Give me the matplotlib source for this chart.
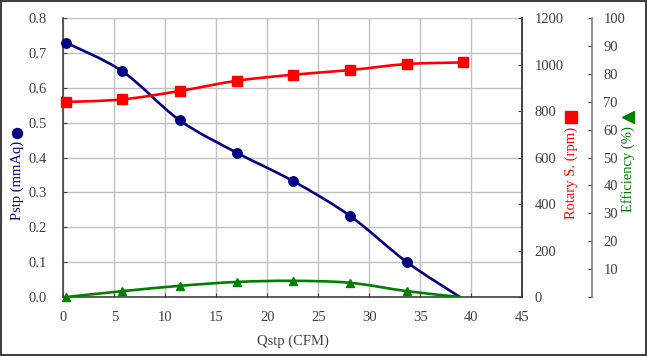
import numpy as np
import matplotlib
matplotlib.use('Agg')
import matplotlib.pyplot as plt
from matplotlib.path import Path
from matplotlib.lines import Line2D
import matplotlib.patches as mpatches

# Data.
qstp = [0.3, 5.8, 11.4, 17.0, 22.5, 28.1, 33.7, 38.9]
pstp = [0.729, 0.647, 0.507, 0.414, 0.333, 0.233, 0.100, 0.0]
rotary_x = [0.3, 5.8, 11.4, 17.0, 22.5, 28.1, 33.7, 39.2]
rotary = [839, 850, 886, 930, 956, 976, 1002, 1009]
efficiency = [0.0, 2.1, 4.0, 5.4, 5.8, 5.1, 2.1, 0.0]

x_ticks = [0, 5, 10, 15, 20, 25, 30, 35, 40, 45]
p_ticks = [0.0, 0.1, 0.2, 0.3, 0.4, 0.5, 0.6, 0.7, 0.8]
r_ticks = [0, 200, 400, 600, 800, 1000, 1200]
e_ticks = [0, 10, 20, 30, 40, 50, 60, 70, 80, 90, 100]

NAVY = '#000080'
RED = '#ff0000'
GREEN = '#008000'
TXT = '#404040'
FONT = ['Liberation Serif', 'DejaVu Sans']

plt.rcParams['font.family'] = FONT
plt.rcParams['font.size'] = 10.5


def smooth_path(x, y):
    # Excel-like smoothed line: Catmull-Rom segments as cubic Beziers.
    p = np.column_stack([x, y]).astype(float)
    ext = np.vstack([p[0], p, p[-1]])
    verts = [p[0]]
    codes = [Path.MOVETO]
    for i in range(len(p) - 1):
        p0, p1, p2, p3 = ext[i], ext[i + 1], ext[i + 2], ext[i + 3]
        c1 = p1 + (p2 - p0) / 6.0
        c2 = p2 - (p3 - p1) / 6.0
        verts += [c1, c2, p2]
        codes += [Path.CURVE4] * 3
    return Path(verts, codes)


def draw_series(a, x, y, color, marker, ms, n_mark):
    patch = mpatches.PathPatch(smooth_path(x, y), facecolor='none',
                               edgecolor=color, lw=1.9, capstyle='round')
    a.add_patch(patch)
    a.plot(x[:n_mark], y[:n_mark], ls='none', marker=marker, ms=ms,
           color=color, clip_on=False, zorder=5)


def axis_title(x, y_text, y_sym, text, color, marker, ms):
    fig.text(x, y_text, text, rotation=90, color=color, ha='center',
             va='center', fontsize=10.5, family=FONT)
    fig.add_artist(Line2D([x], [y_sym], marker=marker, ms=ms, color=color,
                          ls='none', transform=fig.transFigure))


fig = plt.figure(figsize=(6.47, 3.56), dpi=100)
ax = fig.add_axes([0.0978, 0.1657, 0.7092, 0.7837])

ax.set_xlim(0, 45)
ax.set_ylim(0, 0.8)
ax.set_xticks(x_ticks)
ax.set_yticks(p_ticks)
ax.set_yticklabels(['%.1f' % v for v in p_ticks])
ax.grid(True, color='#c0c0c0', lw=1.0)
ax.set_axisbelow(True)
ax.tick_params(direction='in', length=3, colors=TXT, labelsize=10.5,
               pad=10)
ax.tick_params(axis='y', pad=12)
for s in ['left', 'bottom', 'right']:
    ax.spines[s].set_color(TXT)
    ax.spines[s].set_linewidth(1.2)
ax.spines['top'].set_visible(False)

# Rotary speed axis
ax2 = ax.twinx()
ax2.set_ylim(0, 1200)
ax2.set_yticks(r_ticks)
ax2.tick_params(direction='in', length=3, colors=TXT, labelsize=10.5,
                pad=9)
for s in ['left', 'bottom', 'top']:
    ax2.spines[s].set_visible(False)
ax2.spines['right'].set_color(TXT)
ax2.spines['right'].set_linewidth(1.2)

# Efficiency axis
ax3 = ax.twinx()
ax3.spines['right'].set_position(('axes', 1.1526))
ax3.set_ylim(0, 100)
ax3.set_yticks(e_ticks)
ax3.set_yticklabels([''] + [str(v) for v in e_ticks[1:]])
ax3.tick_params(direction='in', length=3, colors=TXT, labelsize=10.5,
                pad=8)
for s in ['left', 'bottom', 'top']:
    ax3.spines[s].set_visible(False)
ax3.spines['right'].set_color('#808080')
ax3.spines['right'].set_linewidth(1.2)

draw_series(ax2, rotary_x, rotary, RED, 's', 6.5, len(rotary))
draw_series(ax, qstp, pstp, NAVY, 'o', 6.8, len(pstp) - 1)
draw_series(ax3, qstp, efficiency, GREEN, '^', 6.0, len(efficiency) - 1)

ax.set_xlabel('Qstp (CFM)', color=TXT, fontsize=10.5, labelpad=8)

axis_title(0.0263, 0.493, 0.626, 'Pstp (mmAq)', NAVY, 'o', 7.2)
axis_title(0.8825, 0.513, 0.6705, 'Rotary S. (rpm)', RED, 's', 8.0)
axis_title(0.9706, 0.525, 0.672, 'Efficiency (%)', GREEN, '<', 8.5)

# Outer frame of the chart
fig.patches.append(mpatches.Rectangle((0.002, 0.004), 0.996, 0.993,
                                      transform=fig.transFigure,
                                      fill=False, edgecolor='#404040',
                                      lw=1.5))

fig.savefig('out.png', dpi=100)
